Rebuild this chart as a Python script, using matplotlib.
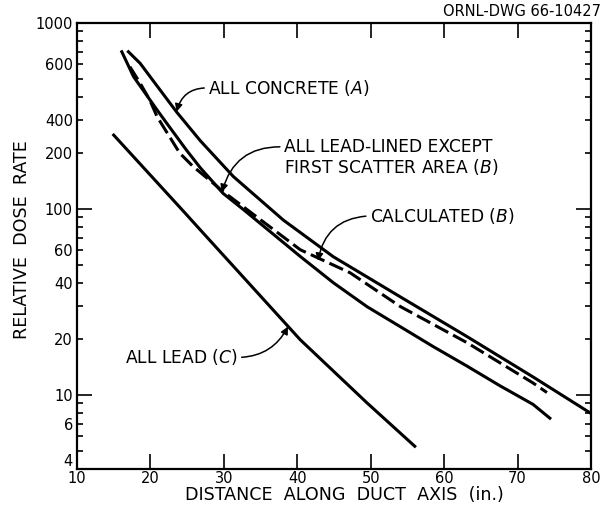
import matplotlib
matplotlib.use("Agg")
import matplotlib.pyplot as plt

# ---- data ----
concrete_x = [17.0, 18.6, 20.4, 23.6, 26.8, 31.3, 38.1, 44.9, 54.0, 63.1, 72.1, 79.9]
concrete_y = [698, 605, 486, 330, 232, 149, 87, 55.3, 33.7, 20.6, 12.5, 8.0]

leadlined_x = [16.1, 17.7, 20.9, 22.2, 24.9, 26.8, 29.9, 32.7, 40.4, 44.9, 49.5, 54.0, 58.5, 63.1, 67.6, 72.1, 74.4]
leadlined_y = [698, 513, 340, 289, 207, 166, 121, 98.8, 55.5, 40.1, 29.8, 23.3, 18.2, 14.3, 11.2, 8.9, 7.5]

calc_x = [17.2, 18.6, 19.9, 20.9, 24.0, 25.8, 30.0, 40.4, 47.2, 54.0, 63.1, 72.1, 74.0]
calc_y = [580, 473, 385, 313, 199, 169, 123, 60.3, 45.3, 29.9, 19.1, 11.6, 10.3]

lead_x = [15.0, 24.5, 26.8, 40.4, 49.5, 56.0]
lead_y = [249, 97, 77, 19.8, 9.06, 5.3]

x_ticks = [10, 20, 30, 40, 50, 60, 70, 80]
x_tick_labels = ["10", "20", "30", "40", "50", "60", "70", "80"]
y_major_ticks = [10, 100]
y_major_labels = ["10", "100"]
y_minor_ticks = [4, 5, 6, 7, 8, 9, 20, 30, 40, 50, 60, 70, 80, 90,
                 200, 300, 400, 500, 600, 700, 800, 900, 1000]
y_minor_label_map = {4: "4", 7: "6", 20: "20", 40: "40", 60: "60",
                     200: "200", 300: "400", 600: "600", 1000: "1000"}

# ---- figure ----
plt.rcParams["font.family"] = ["DejaVu Sans"]
fig = plt.figure(figsize=(6.08, 5.15), dpi=100)
L, R, T, B = 77, 591, 22.7, 469
ax = fig.add_axes([L / 608, 1 - B / 515, (R - L) / 608, (B - T) / 515])
ax.set_yscale("log")
ax.set_xlim(10, 80)
ax.set_ylim(4, 1000)

lw = 2.2
ax.plot(concrete_x, concrete_y, color="black", lw=lw)
ax.plot(leadlined_x, leadlined_y, color="black", lw=lw)
ax.plot(calc_x, calc_y, color="black", lw=lw, ls=(0, (4.9, 1.8)))
ax.plot(lead_x, lead_y, color="black", lw=lw)

for s in ax.spines.values():
    s.set_linewidth(1.6)

ax.set_xticks(x_ticks, x_tick_labels)
ax.set_yticks(y_major_ticks, y_major_labels)
ax.set_yticks(y_minor_ticks,
              [y_minor_label_map.get(v, "") for v in y_minor_ticks], minor=True)
ax.tick_params(axis="x", which="major", direction="in", top=True, length=11,
               width=1.2, labelsize=10.5, pad=1.5)
ax.tick_params(axis="x", which="minor", bottom=False, top=False)
ax.tick_params(axis="y", which="major", direction="in", right=True, length=11,
               width=1.2, labelsize=10.5, pad=3)
ax.tick_params(axis="y", which="minor", direction="in", right=True, length=4.5,
               width=1.2, labelsize=10.5, pad=3)
for lab in ax.get_yticklabels(minor=True):
    if lab.get_text() == "4":
        lab.set_verticalalignment("bottom")

ax.set_xlabel("DISTANCE  ALONG  DUCT  AXIS  (in.)", fontsize=12.6)
ax.xaxis.set_label_coords(0.521, -0.037)
ax.set_ylabel("RELATIVE  DOSE  RATE", fontsize=12.6)
ax.yaxis.set_label_coords(-0.09, 0.513)

fig.text(601 / 608, 1 - 12 / 515, "ORNL-DWG 66-10427", ha="right", va="center",
         fontsize=10.5)

ap = dict(arrowstyle="-|>", color="black", lw=1.1, mutation_scale=11,
          shrinkA=1, shrinkB=0)
fs = 12.3
ax.annotate("ALL CONCRETE ($\\it{A}$)", xy=(23.58, 333), xytext=(27.9, 446),
            ha="left", va="center", fontsize=fs,
            arrowprops=dict(ap, connectionstyle="arc3,rad=0.4", relpos=(0, 0.5)))
ax.annotate("ALL LEAD-LINED EXCEPT\nFIRST SCATTER AREA ($\\it{B}$)",
            xy=(29.75, 123), xytext=(38.2, 188), ha="left", va="center",
            fontsize=fs, linespacing=1.05,
            arrowprops=dict(ap, connectionstyle="arc3,rad=0.4", relpos=(0, 0.78)))
ax.annotate("CALCULATED ($\\it{B}$)", xy=(42.82, 52.5), xytext=(49.9, 91.6),
            ha="left", va="center", fontsize=fs,
            arrowprops=dict(ap, connectionstyle="arc3,rad=0.4", relpos=(0, 0.5)))
ax.annotate("ALL LEAD ($\\it{C}$)", xy=(38.73, 23.3), xytext=(16.5, 15.9),
            ha="left", va="center", fontsize=fs,
            arrowprops=dict(ap, connectionstyle="arc3,rad=0.3", relpos=(1, 0.5)))

fig.savefig("out.png", dpi=100)
